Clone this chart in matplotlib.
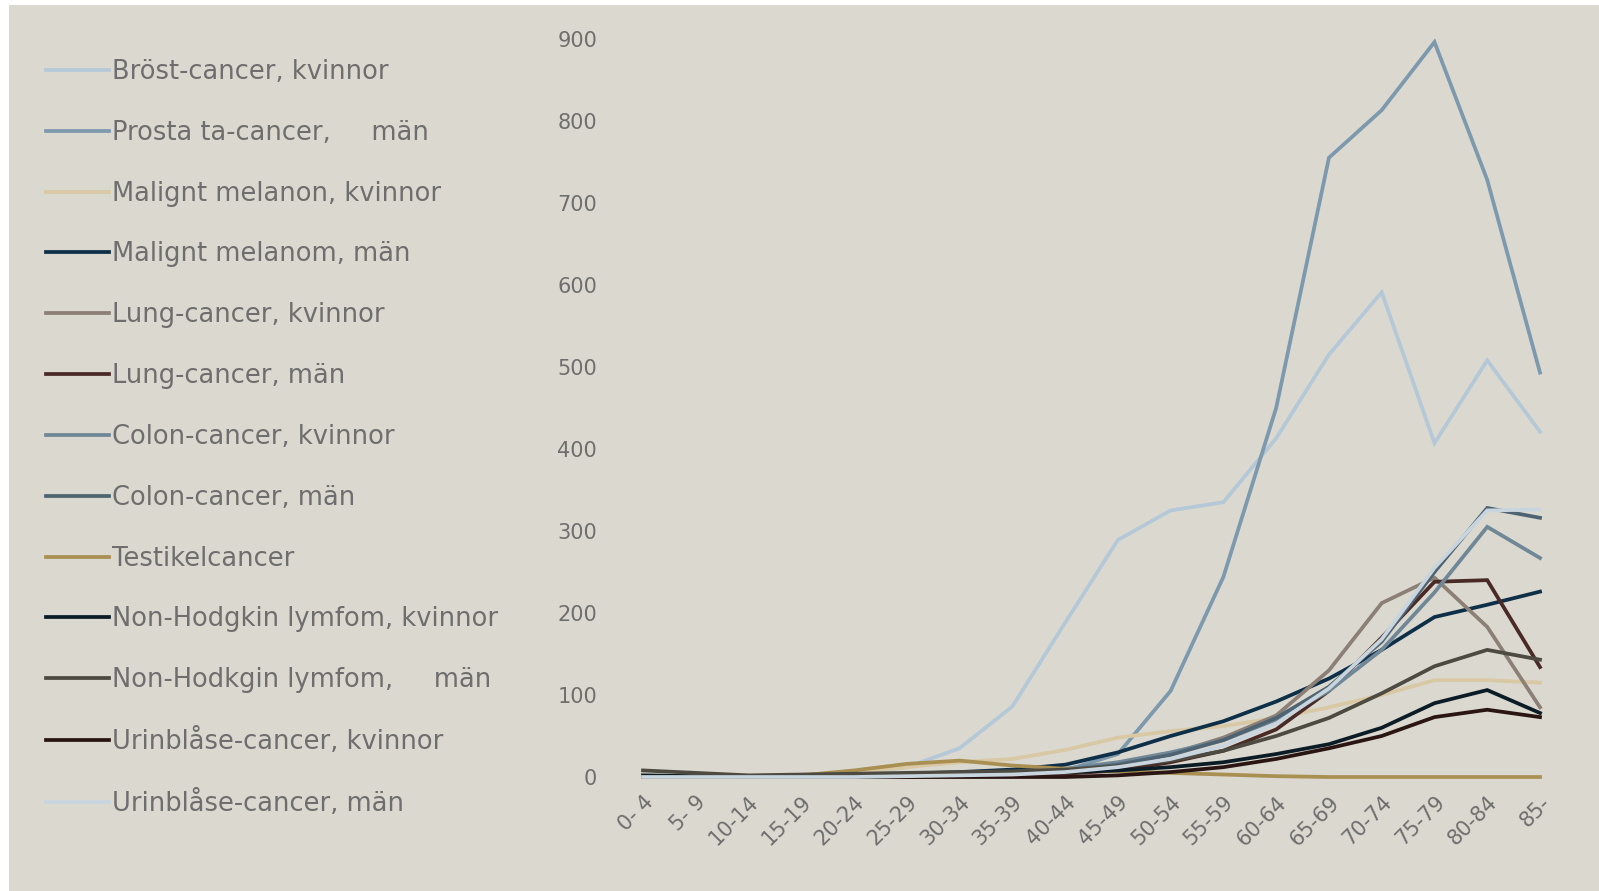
import matplotlib.pyplot as plt
from matplotlib.patches import Rectangle

plt.rcParams['font.family'] = ['DejaVu Sans']

ages = ['0- 4', '5- 9', '10-14', '15-19', '20-24', '25-29', '30-34', '35-39', '40-44',
        '45-49', '50-54', '55-59', '60-64', '65-69', '70-74', '75-79', '80-84', '85-']

brost = [0, 0, 0, 0, 3, 12, 35, 86, 188, 289, 325, 335, 413, 515, 591, 407, 508, 421]
prostata = [0, 0, 0, 0, 0, 0, 0, 1, 8, 28, 105, 244, 450, 755, 813, 896, 728, 493]
melanom_k = [0, 0, 0, 1, 5, 12, 18, 22, 33, 48, 56, 62, 72, 85, 100, 118, 118, 115]
melanom_m = [0, 0, 0, 1, 2, 4, 6, 9, 15, 30, 50, 68, 92, 120, 155, 195, 210, 226]
lung_k = [0, 0, 0, 0, 0, 1, 2, 4, 8, 15, 28, 48, 75, 130, 212, 243, 183, 85]
lung_m = [0, 0, 0, 0, 0, 0, 1, 2, 4, 8, 18, 32, 58, 105, 170, 238, 240, 134]
colon_k = [0, 0, 0, 0, 1, 2, 4, 6, 10, 18, 30, 45, 70, 105, 155, 225, 305, 267]
colon_m = [0, 0, 0, 0, 1, 2, 3, 5, 8, 15, 27, 45, 72, 110, 165, 250, 328, 316]
testikel = [0, 0, 0, 2, 8, 16, 20, 14, 10, 7, 5, 3, 1, 0, 0, 0, 0, 0]
nh_k = [2, 1, 0, 1, 2, 3, 4, 5, 6, 8, 12, 18, 28, 40, 60, 90, 106, 78]
nh_m = [8, 5, 2, 3, 4, 5, 6, 7, 9, 13, 20, 32, 50, 72, 102, 135, 155, 143]
urin_k = [0, 0, 0, 0, 0, 0, 0, 0, 0, 2, 6, 12, 22, 35, 50, 73, 82, 73]
urin_m = [0, 0, 0, 0, 0, 1, 2, 3, 6, 12, 22, 38, 65, 108, 168, 255, 325, 326]

labels = ['Bröst-cancer, kvinnor', 'Prosta ta-cancer,     män', 'Malignt melanon, kvinnor',
          'Malignt melanom, män', 'Lung-cancer, kvinnor', 'Lung-cancer, män',
          'Colon-cancer, kvinnor', 'Colon-cancer, män', 'Testikelcancer',
          'Non-Hodgkin lymfom, kvinnor', 'Non-Hodkgin lymfom,     män',
          'Urinblåse-cancer, kvinnor', 'Urinblåse-cancer, män']
series = [brost, prostata, melanom_k, melanom_m, lung_k, lung_m, colon_k, colon_m,
          testikel, nh_k, nh_m, urin_k, urin_m]
colors = ['#b4c8d8', '#7d99ae', '#d9c8a4', '#0e2f48', '#8b7f76', '#4a2a27', '#6f8797',
          '#4f6473', '#a98f52', '#0b1c26', '#4d4a42', '#2a1512', '#c9d5de']

bg = '#dbd9cf'
txt = '#6e6e6e'

fig = plt.figure(figsize=(15.99, 8.91), dpi=100, facecolor='white')
fig.patches.append(Rectangle((9 / 1599, 0), 1, 1 - 5 / 891, transform=fig.transFigure,
                             facecolor=bg, edgecolor='none', zorder=-10))

ax = fig.add_axes([643 / 1599, 1 - 777 / 891, (1540 - 643) / 1599, (777 - 38.8) / 891])
ax.set_facecolor('none')
x = list(range(len(ages)))
for vals, lab, col in zip(series, labels, colors):
    ax.plot(x, vals, color=col, lw=2.7, label=lab, clip_on=False, solid_joinstyle='miter')

ax.set_xlim(0, len(ages) - 1)
ax.set_ylim(0, 900)
ax.set_yticks(range(0, 1000, 100))
ax.set_xticks(x)
ax.set_xticklabels(ages, rotation=45, ha='right', va='top', rotation_mode='anchor')
for s in ax.spines.values():
    s.set_visible(False)
ax.tick_params(axis='y', length=0, pad=33, labelsize=15, labelcolor=txt)
ax.tick_params(axis='x', length=0, pad=11, labelsize=15, labelcolor=txt)

h, l = ax.get_legend_handles_labels()
fig.legend(h, l, loc='upper left', bbox_to_anchor=(46 / 1599, 1 - 59 / 891), frameon=False,
           fontsize=18.5, labelcolor=txt, handlelength=2.45, handletextpad=0.1,
           labelspacing=1.355, borderpad=0, borderaxespad=0)

fig.savefig('out.png', dpi=100, facecolor='white')
